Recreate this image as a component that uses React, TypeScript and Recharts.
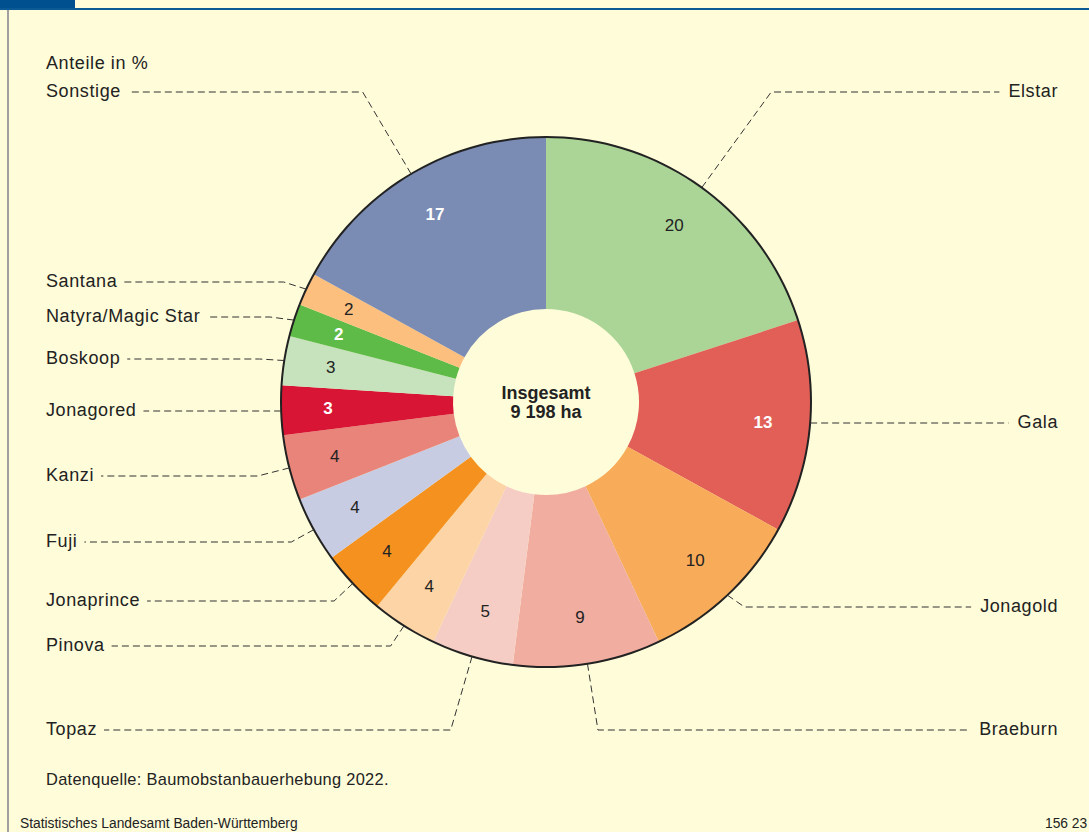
import React from 'react';
import { PieChart, Pie, Cell, Label } from 'recharts';

// ---------- data ----------
const categories = [
  'Elstar', 'Gala', 'Jonagold', 'Braeburn', 'Topaz', 'Pinova', 'Jonaprince',
  'Fuji', 'Kanzi', 'Jonagored', 'Boskoop', 'Natyra/Magic Star', 'Santana', 'Sonstige',
];
const shares = [20, 13, 10, 9, 5, 4, 4, 4, 4, 3, 3, 2, 2, 17];
const centerLines = ['Insgesamt', '9 198 ha'];
const unitTitle = 'Anteile in %';
const sourceNote = 'Datenquelle: Baumobstanbauerhebung 2022.';
const footerLeft = 'Statistisches Landesamt Baden-Württemberg';
const footerRight = '156 23';

// ---------- style / layout ----------
const sliceColors = [
  '#abd597', '#e15f57', '#f8ab58', '#f0ada0', '#f6cdc5', '#fdd4a5', '#f5921f',
  '#c8cce2', '#e8847a', '#d81535', '#c6e3bd', '#5fbb47', '#fcbf7e', '#7a8bb4',
];
const whiteValueLabels = new Set(['Gala', 'Jonagored', 'Natyra/Magic Star', 'Sonstige']);
// vertical row of each category name (layout only)
const nameRowY: Record<string, number> = {
  Elstar: 92, Gala: 423, Jonagold: 607, Braeburn: 730, Topaz: 730, Pinova: 646,
  Jonaprince: 601, Fuji: 542, Kanzi: 476, Jonagored: 411, Boskoop: 359,
  'Natyra/Magic Star': 317, Santana: 282, Sonstige: 92,
};

const W = 1089;
const H = 832;
const CX = 546;
const CY = 402;
const R_OUT = 265;
const R_IN = 93;
const VALUE_R = 218;
const LEFT_X = 46;
const RIGHT_X = 1058;
const BG = '#fefcd9';
const TEXT = '#222222';
const FONT = "'Liberation Sans', Arial, Helvetica, sans-serif";
const NAME_SIZE = 18;
const NAME_LS = 0.6;

const chartData = categories.map((name, i) => ({ name, value: shares[i] }));

let measureCtx: CanvasRenderingContext2D | null = null;
function textWidth(t: string, size: number, ls: number): number {
  if (!measureCtx) {
    const c = document.createElement('canvas');
    measureCtx = c.getContext('2d');
  }
  if (!measureCtx) return t.length * size * 0.55;
  measureCtx.font = `${size}px ${FONT}`;
  return measureCtx.measureText(t).width + ls * t.length;
}

const RAD = Math.PI / 180;

function renderLabel(props: any) {
  const { midAngle, index } = props;
  const name = categories[index];
  const value = shares[index];
  const dx = Math.cos(midAngle * RAD);
  const dy = -Math.sin(midAngle * RAD);
  const vx = CX + VALUE_R * dx;
  const vy = CY + VALUE_R * dy;
  const white = whiteValueLabels.has(name);

  const rowY = nameRowY[name];
  const right = dx > 0;
  let ex = CX + R_OUT * dx;
  let ey = CY + R_OUT * dy;
  let t = Math.abs(dy) > 1e-6 ? (rowY - CY) / dy : R_OUT + 25;
  if (!(t > R_OUT + 25)) t = R_OUT + 25;
  let elbowX = CX + t * dx;
  // nearly horizontal leaders start right at the rim on the label's row
  if (Math.abs(dy) < 0.12 && Math.abs(rowY - CY) < R_OUT) {
    ex = CX + (right ? 1 : -1) * Math.sqrt(R_OUT * R_OUT - (rowY - CY) * (rowY - CY));
    ey = rowY;
    elbowX = ex;
  }
  const tw = textWidth(name, NAME_SIZE, NAME_LS);
  const endX = right ? RIGHT_X - tw - 9 : LEFT_X + tw + 7;
  const pts = `${ex},${ey} ${elbowX},${rowY} ${endX},${rowY}`;

  return (
    <g key={`lbl-${index}`}>
      <text
        x={vx}
        y={vy}
        textAnchor="middle"
        dominantBaseline="central"
        fontFamily={FONT}
        fontSize={17}
        fontWeight={white ? 700 : 400}
        fill={white ? '#ffffff' : TEXT}
      >
        {value}
      </text>
      <polyline
        points={pts}
        fill="none"
        stroke="#333333"
        strokeWidth={1}
        strokeDasharray="7 4"
      />
      <text
        x={right ? RIGHT_X : LEFT_X}
        y={rowY - 1}
        textAnchor={right ? 'end' : 'start'}
        dominantBaseline="central"
        fontFamily={FONT}
        fontSize={NAME_SIZE}
        letterSpacing={NAME_LS}
        fill={TEXT}
      >
        {name}
      </text>
    </g>
  );
}

function CenterText() {
  return (
    <g>
      <text x={CX} y={CY - 9.5} textAnchor="middle" dominantBaseline="central"
        fontFamily={FONT} fontSize={18} fontWeight={700} fill={TEXT}>
        {centerLines[0]}
      </text>
      <text x={CX} y={CY + 9.5} textAnchor="middle" dominantBaseline="central"
        fontFamily={FONT} fontSize={18} fontWeight={700} fill={TEXT}>
        {centerLines[1]}
      </text>
    </g>
  );
}

export default function App() {
  const abs = (x: number, y: number, size: number, extra: any = {}) => ({
    position: 'absolute' as const,
    left: x,
    top: y,
    fontFamily: FONT,
    fontSize: size,
    color: TEXT,
    whiteSpace: 'nowrap' as const,
    lineHeight: 1,
    ...extra,
  });
  return (
    <div style={{ position: 'absolute', left: 0, top: 0, width: W, height: H, background: BG, overflow: 'hidden' }}>
      <div style={{ position: 'absolute', left: 0, top: 0, width: 75, height: 8, background: '#00508f' }} />
      <div style={{ position: 'absolute', left: 0, top: 8, width: W, height: 2, background: '#0b5a96' }} />
      <div style={{ position: 'absolute', left: 7, top: 10, width: 2, height: H - 10, background: '#a0a0a0' }} />
      <div style={{ position: 'absolute', left: 0, top: 0 }}>
        <PieChart width={W} height={H} margin={{ top: 0, right: 0, bottom: 0, left: 0 }}>
          <Pie
            data={chartData}
            dataKey="value"
            nameKey="name"
            cx={CX}
            cy={CY}
            innerRadius={R_IN}
            outerRadius={R_OUT}
            startAngle={90}
            endAngle={-270}
            stroke="none"
            isAnimationActive={false}
            labelLine={false}
            label={renderLabel}
          >
            {chartData.map((d, i) => (
              <Cell key={d.name} fill={sliceColors[i]} stroke="none" />
            ))}
            <Label position="center" content={() => <CenterText />} />
          </Pie>
          <Pie
            data={[{ name: 'rim', value: 1 }]}
            dataKey="value"
            cx={CX}
            cy={CY}
            innerRadius={R_OUT - 1}
            outerRadius={R_OUT + 1}
            startAngle={90}
            endAngle={-270}
            fill="#222222"
            stroke="none"
            isAnimationActive={false}
          />
        </PieChart>
      </div>
      <div style={abs(LEFT_X, 54, NAME_SIZE, { letterSpacing: NAME_LS })}>{unitTitle}</div>
      <div style={abs(LEFT_X, 771, 16.4, { letterSpacing: 0.3 })}>{sourceNote}</div>
      <div style={abs(20, 817, 13.8)}>{footerLeft}</div>
      <div style={abs(1045, 817, 13.8)}>{footerRight}</div>
    </div>
  );
}
